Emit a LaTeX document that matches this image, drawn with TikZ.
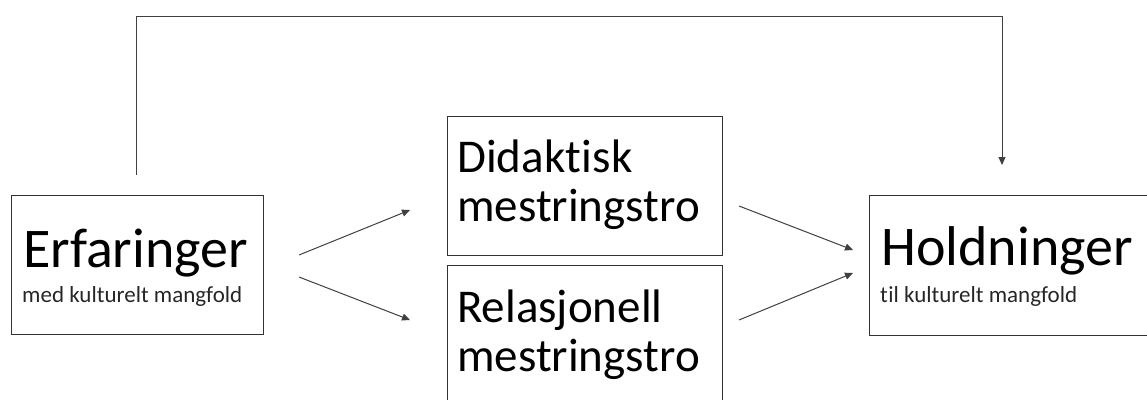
\documentclass[tikz,border=0pt]{standalone}
\usepackage{fontspec}
\setmainfont{Carlito}[Ligatures=NoCommon,Contextuals=NoAlternate]
\usetikzlibrary{arrows.meta}
\begin{document}
\begin{tikzpicture}[x=1pt,y=-1pt,
  box/.style={draw=black!80,line width=1pt,rectangle,inner sep=0pt},
  conn/.style={draw=black!75,line width=1pt,-{Triangle[length=8pt,width=7pt]}},
  big/.style={anchor=base west,inner sep=0pt,font=\fontsize{56}{56}\selectfont},
  mid/.style={anchor=base west,inner sep=0pt,font=\fontsize{47}{50}\selectfont},
  small/.style={anchor=base west,inner sep=0pt,font=\fontsize{23}{25}\selectfont,text=black!85}]
\useasboundingbox (0,0) rectangle (1147,399);
\clip (0,0) rectangle (1147,399);
% boxes
\node[box,minimum width=252pt,minimum height=139pt] (E) at (137,264.5) {};
\node[box,minimum width=275pt,minimum height=139pt] (D) at (584.5,185.5) {};
\node[box,minimum width=275pt,minimum height=139pt] (R) at (584.5,334.5) {};
\node[box,minimum width=290pt,minimum height=140pt] (H) at (1014,265) {};
% texts
\node[big] (Et) at (23,267) {Erfaringer};
\node[small] (Es) at (22,302) {med kulturelt mangfold};
\node[mid] (Dt1) at (457,172) {Didakt\kern1pt isk};
\node[mid] (Dt2) at (457,221) {mestringstro};
\node[mid] (Rt1) at (457,322) {Relasjonell};
\node[mid] (Rt2) at (457,371) {mestringstro};
\node[big] (Ht) at (881,265) {Holdninger};
\node[small] (Hs) at (880,302) {t\kern0.5pt il kulturelt mangfold};
% connector endpoints
\coordinate (a1) at (299,255); \coordinate (a1e) at (410,210);
\coordinate (a2) at (299,277); \coordinate (a2e) at (410,320);
\coordinate (b1) at (739,206); \coordinate (b1e) at (853,250);
\coordinate (b2) at (739,320); \coordinate (b2e) at (853,273);
\coordinate (t0) at (136,175); \coordinate (t3) at (1002,165);
\draw[conn] (a1) -- (a1e);
\draw[conn] (a2) -- (a2e);
\draw[conn] (b1) -- (b1e);
\draw[conn] (b2) -- (b2e);
\draw[conn] (t0) |- (1002,16) -- (t3);
\end{tikzpicture}
\end{document}
